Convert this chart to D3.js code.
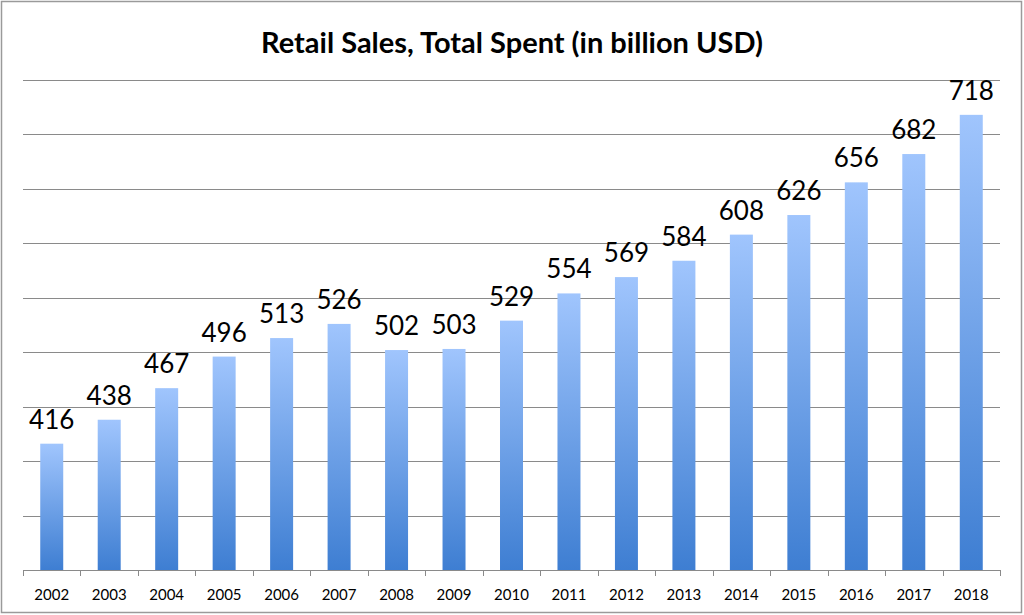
<!DOCTYPE html>
<html><head><meta charset="utf-8">
<script src="https://cdn.jsdelivr.net/npm/d3@7"></script>
<style>body{margin:0;background:#fff}svg{display:block}</style>
</head><body>
<script>
const years = ["2002","2003","2004","2005","2006","2007","2008","2009","2010","2011","2012","2013","2014","2015","2016","2017","2018"];
const values = [416,438,467,496,513,526,502,503,529,554,569,584,608,626,656,682,718];
const gridTicks = [350,400,450,500,550,600,650,700,750];
const titleText = "Retail Sales, Total Spent (in billion USD)";

const W = 1024, H = 615;
const m = {left:23, right:24, top:80, bottom:45};
const svg = d3.select("body").append("svg").attr("width",W).attr("height",H);

const defs = svg.append("defs");
const g1 = defs.append("linearGradient").attr("id","barGrad").attr("x1",0).attr("y1",0).attr("x2",0).attr("y2",1);
g1.append("stop").attr("offset","0%").attr("stop-color","#a0c5fd");
g1.append("stop").attr("offset","100%").attr("stop-color","#3e7ed2");

svg.append("rect").attr("x",1.5).attr("y",1.5).attr("width",W-4).attr("height",H-4)
  .attr("fill","#fff").attr("stroke","#9a9a9a").attr("stroke-width",1.5);

const x = d3.scaleBand().domain(years).range([m.left, W-m.right]).paddingInner(0.6).paddingOuter(0.3);
const y = d3.scaleLinear().domain([300,750]).range([H-m.bottom, m.top]);

svg.append("g").selectAll("line").data(gridTicks).join("line")
  .attr("x1",m.left).attr("x2",W-m.right)
  .attr("y1",d=>Math.round(y(d))+0.5).attr("y2",d=>Math.round(y(d))+0.5)
  .attr("stroke","#8a8a8a").attr("stroke-width",1);

svg.append("g").selectAll("rect").data(values).join("rect")
  .attr("x",(d,i)=>x(years[i])).attr("width",x.bandwidth())
  .attr("y",d=>y(d)).attr("height",d=>y(300)-y(d))
  .attr("fill","url(#barGrad)");

// x axis with ticks at category boundaries
const xs = d3.scalePoint().domain(d3.range(years.length+1)).range([m.left, W-m.right]);
const axisG = svg.append("g");
axisG.append("line").attr("x1",m.left).attr("x2",W-m.right)
  .attr("y1",Math.round(y(300))+0.5).attr("y2",Math.round(y(300))+0.5).attr("stroke","#8a8a8a");
axisG.selectAll("line.tk").data(xs.domain()).join("line").attr("class","tk")
  .attr("x1",d=>Math.round(xs(d))+0.5).attr("x2",d=>Math.round(xs(d))+0.5)
  .attr("y1",y(300)).attr("y2",y(300)+6).attr("stroke","#8a8a8a");
axisG.selectAll("text").data(years).join("text")
  .attr("x",d=>x(d)+x.bandwidth()/2).attr("y",600)
  .attr("text-anchor","middle").attr("font-family","Lato, 'Open Sans', sans-serif")
  .attr("font-size",15).attr("fill","#000").text(d=>d);

svg.append("g").selectAll("text").data(values).join("text")
  .attr("x",(d,i)=>x(years[i])+x.bandwidth()/2).attr("y",d=>y(d)-15)
  .attr("text-anchor","middle").attr("font-family","Lato, 'Open Sans', sans-serif")
  .attr("font-size",26).attr("fill","#000").text(d=>d);

svg.append("text").attr("x",512).attr("y",53).attr("text-anchor","middle")
  .attr("font-family","Lato, 'Open Sans', sans-serif").attr("font-weight","bold")
  .attr("font-size",29).attr("fill","#000").text(titleText);
</script>
</body></html>
